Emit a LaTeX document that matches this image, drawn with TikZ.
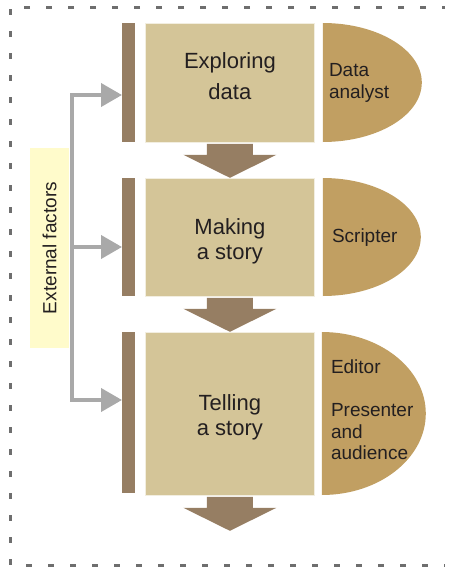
\documentclass[tikz,border=0pt]{standalone}
\usepackage{xcolor}
\usepackage{fontspec}
\setmainfont{Liberation Sans}
\usepackage{tikz}
\usetikzlibrary{arrows.meta, positioning, calc}

\definecolor{stagecol}{HTML}{D4C598}
\definecolor{barcol}{HTML}{967E63}
\definecolor{rolecol}{HTML}{C19F62}
\definecolor{extcol}{HTML}{FFFBCB}
\definecolor{conncol}{HTML}{A9A9A9}
\definecolor{framecol}{HTML}{6E6E6E}
\definecolor{inkcol}{HTML}{231F20}

\tikzset{
    stage/.style={fill=stagecol, draw=white!70!stagecol, line width=0.8pt, minimum width=169pt, anchor=north west},
    stagetext/.style={align=center, text=inkcol, font=\fontsize{22}{25}\selectfont},
    bar/.style={fill=barcol, minimum width=13pt, inner sep=0pt, anchor=north west},
    role/.style={anchor=west, inner sep=0pt, align=left, text=inkcol, font=\fontsize{19}{21.5}\selectfont},
    flow/.style={fill=barcol},
    conn/.style={draw=conncol, line width=4pt},
    gtip/.tip={Triangle[length=21pt, width=23pt]}
}

\begin{document}
\begin{tikzpicture}[x=1pt, y=-1pt]
                    \useasboundingbox (0,0) rectangle (457,570);
                    % Frame
                    \draw[framecol, line width=3pt, dash pattern=on 6pt off 16pt, dash phase=3pt] (445,7) -- (10,7) -- (10,565) -- (445,565);
                    % Stages
                    \node[stage, minimum height=119pt, label={[stagetext, yshift=7pt]center:Exploring\\[6pt]data}] (explore) at (145,23) {};
                    \node[stage, minimum height=118pt, label={[stagetext, yshift=-4pt]center:Making\\a story}] (story) at (145,178) {};
                    \node[stage, minimum height=163pt, label={[stagetext, yshift=-3pt]center:Telling\\a story}] (tell) at (145,332) {};
                    % Bars
                    \node[bar, minimum height=119pt] (bar1) at (122,23) {};
                    \node[bar, minimum height=118pt] (bar2) at (122,178) {};
                    \node[bar, minimum height=161pt] (bar3) at (122,332) {};
                    % Roles
                    \fill[rolecol] ($(explore.north east)+(8,0)$) arc[start angle=90, end angle=-90, x radius=99, y radius=-59.5] -- cycle;
                    \fill[rolecol] ($(story.north east)+(8,0)$) arc[start angle=90, end angle=-90, x radius=98, y radius=-59] -- cycle;
                    \fill[rolecol] ($(tell.north east)+(7,0)$) arc[start angle=90, end angle=-90, x radius=104, y radius=-81.5] -- cycle;
                    \node[role] (analyst) at ($(explore.east)+(14,0)$) {Data\\analyst};
                    \node[role] (scripter) at ($(story.east)+(17,0)$) {Scripter};
                    \node[role] (audience) at ($(tell.east)+(16,-4)$) {Editor\\[21.5pt]Presenter\\and\\audience};
                    % Flow arrows
                    \foreach \b in {explore, story, tell}
                        \fill[flow] ($(\b.south)+(-23,1)$) -- ++(0,11) -- ++(-23.5,0) -- ($(\b.south)+(0,35)$) -- ($(\b.south)+(46.5,12)$) -- ++(-23.5,0) -- ++(0,-11) -- cycle;
                    % External factors
                    \node[fill=extcol, minimum width=200pt, minimum height=39pt, rotate=90, text=inkcol, font=\fontsize{19}{21}\selectfont] (ext) at (49.5,248) {External factors};
                    \coordinate (tr1) at (72,95);
                    \coordinate (tr2) at (72,247);
                    \coordinate (tr3) at (72,400);
                    \coordinate (in1) at (bar1.west |- tr1);
                    \coordinate (in2) at (bar2.west |- tr2);
                    \coordinate (in3) at (bar3.west |- tr3);
                    \draw[conn, gtip-gtip] (in1) -- (tr1) -- (tr3) -- (in3);
                    \draw[conn, -gtip] (tr2) -- (in2);
                \end{tikzpicture}
\end{document}
